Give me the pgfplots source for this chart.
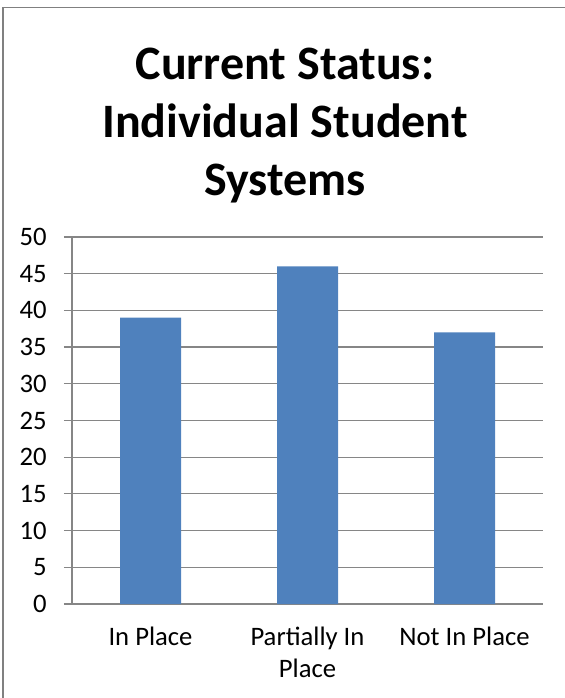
\documentclass[border=0pt]{standalone}
\usepackage{fontspec}
\setmainfont{Carlito}
\usepackage{pgfplots}
\pgfplotsset{compat=1.18}
\definecolor{barblue}{RGB}{79,129,189}
\definecolor{gridgray}{RGB}{134,134,134}
\definecolor{framegray}{RGB}{128,128,128}
\begin{document}
\begin{tikzpicture}
\useasboundingbox (0,0) rectangle (423pt,523.5pt);
% outer frame (top and left edges)
\draw[framegray, line width=1.2pt] (2.25pt,-5pt) -- (2.25pt,517.9pt) -- (430pt,517.9pt);
% title, placed by the baseline of its last line
\node[anchor=base, align=center, font=\fontsize{36}{43.5}\selectfont\bfseries]
  at (213.75pt,376.5pt) {Current Status:\\Individual Student\\Systems};
\begin{axis}[
  at={(54pt,70.5pt)}, anchor=south west,
  scale only axis, width=353.25pt, height=275.25pt,
  xmin=-0.5, xmax=2.5, ymin=0, ymax=50,
  ytick={0,5,...,50},
  xtick={0,1,2},
  xticklabels={In Place, Partially In\\Place, Not In Place},
  minor xtick={-0.5,0.5,1.5,2.5},
  axis lines*=left,
  axis line style={gridgray, line width=0.9pt},
  ymajorgrids, grid style={gridgray, line width=0.9pt},
  tick style={gridgray, line width=0.9pt},
  tick align=outside,
  major tick length=6pt,
  xtick style={draw=none},
  minor tick length=4.5pt,
  minor x tick style={gridgray, line width=0.9pt},
  every tick label/.append style={font=\fontsize{20}{24.5}\selectfont, text=black},
  /pgf/number format/assume math mode=true,
  xticklabel style={align=center, anchor=north, yshift=-7.5pt},
  yticklabel style={xshift=-9.5pt},
  ybar, bar width=45.75pt,
  clip=false,
]
\addplot[fill=barblue, draw=none] coordinates {(0,39) (1,46) (2,37)};
\end{axis}
\end{tikzpicture}
\end{document}
